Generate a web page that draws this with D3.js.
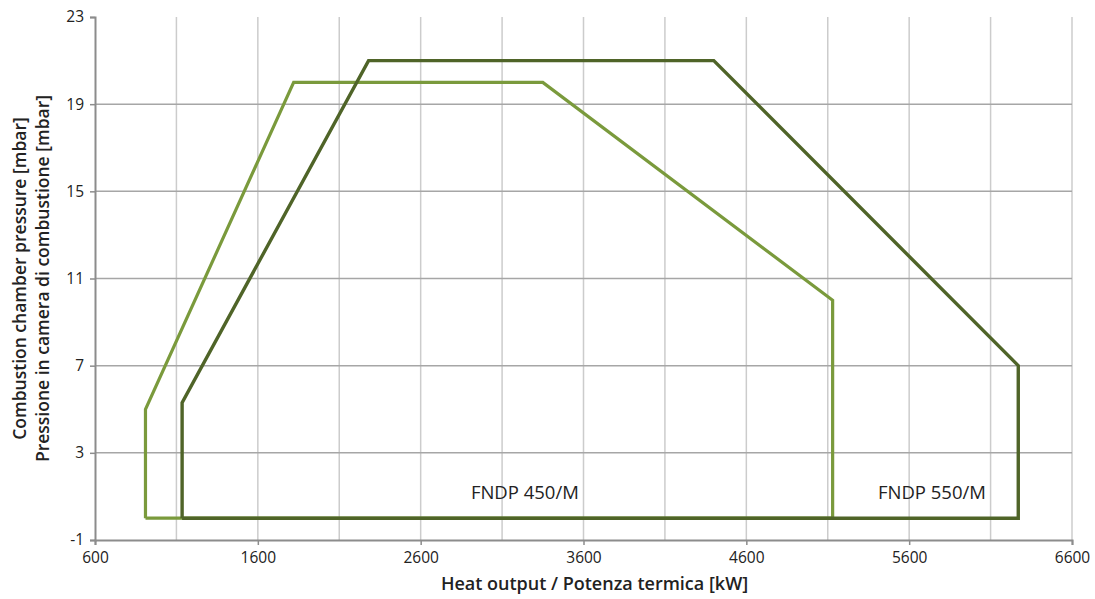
<!DOCTYPE html>
<html lang="en">
<head>
<meta charset="UTF-8">
<title>FNDP working range</title>
<style>
    body { margin: 0; background: #fff; font-family: "Open Sans", sans-serif; }
    svg text { fill: #222; }
</style>
<script src="https://d3js.org/d3.v7.min.js"></script>
</head>
<body>
<div id="chart"></div>
<script>
    // values (kW, mbar)
    const xTicks = [600, 1600, 2600, 3600, 4600, 5600, 6600];
    const yTicks = [-1, 3, 7, 11, 15, 19, 23];

    const fndp450 = [
        [910, 0], [910, 5], [1820, 20], [3350, 20], [5130, 10], [5130, 0], [910, 0]
    ];
    const fndp550 = [
        [1135, 0], [1135, 5.3], [2280, 21], [4400, 21], [6270, 7], [6270, 0], [1135, 0]
    ];
    const labels = [
        { text: "FNDP 450/M", x: 3240, y: 1.1 },
        { text: "FNDP 550/M", x: 5740, y: 1.1 }
    ];

    const width = 1095, height = 599;
    const margin = { top: 17, right: 23, bottom: 60, left: 95 };

    const svg = d3.select("#chart").append("svg")
        .attr("width", width)
        .attr("height", height);

    const x = d3.scaleLinear().domain([600, 6600]).range([margin.left, width - margin.right]);
    const y = d3.scaleLinear().domain([-1, 23]).range([height - margin.bottom + 1, margin.top]);

    // vertical grid every 500
    svg.append("g")
        .selectAll("line")
        .data(d3.range(1100, 6601, 500))
        .join("line")
        .attr("x1", d => x(d)).attr("x2", d => x(d))
        .attr("y1", y(23)).attr("y2", y(-1))
        .attr("stroke", "#cccccc")
        .attr("stroke-width", 1.5);

    // horizontal grid
    svg.append("g")
        .selectAll("line")
        .data(yTicks.filter(d => d > -1 && d < 23))
        .join("line")
        .attr("x1", x(600)).attr("x2", x(6600))
        .attr("y1", d => y(d)).attr("y2", d => y(d))
        .attr("stroke", "#a6a6a6")
        .attr("stroke-width", 1.5);

    // axes
    const xAxis = svg.append("g")
        .attr("transform", `translate(0,${y(-1)})`)
        .call(d3.axisBottom(x).tickValues(xTicks).tickSize(5).tickPadding(7).tickFormat(d => String(d)));
    const yAxis = svg.append("g")
        .attr("transform", `translate(${x(600)},0)`)
        .call(d3.axisLeft(y).tickValues(yTicks).tickSize(5).tickPadding(6).tickFormat(d => String(d)));

    [xAxis, yAxis].forEach(a => {
        a.select(".domain").attr("stroke", "#8c8c8c").attr("stroke-width", 2);
        a.selectAll(".tick line").attr("stroke", "#8c8c8c").attr("stroke-width", 1.5);
        a.selectAll(".tick text")
            .style("font-family", "'Open Sans', sans-serif")
            .style("font-size", "15.5px")
            .attr("fill", "#1a1a1a");
    });

    const line = d3.line().x(d => x(d[0])).y(d => y(d[1]));

    svg.append("path")
        .datum(fndp450)
        .attr("d", line)
        .attr("fill", "none")
        .attr("stroke", "#7a9a3c")
        .attr("stroke-width", 3.2)
        .attr("stroke-linejoin", "miter");

    svg.append("path")
        .datum(fndp550)
        .attr("d", line)
        .attr("fill", "none")
        .attr("stroke", "#4f6428")
        .attr("stroke-width", 3.4)
        .attr("stroke-linejoin", "miter");

    svg.append("g")
        .selectAll("text")
        .data(labels)
        .join("text")
        .attr("x", d => x(d.x))
        .attr("y", d => y(d.y))
        .attr("text-anchor", "middle")
        .attr("dominant-baseline", "middle")
        .style("font-size", "18.5px")
        .text(d => d.text);

    // axis titles
    svg.append("text")
        .attr("x", (x(600) + x(6600)) / 2 + 11)
        .attr("y", 590)
        .attr("text-anchor", "middle")
        .style("font-size", "18px")
        .style("font-weight", "600")
        .text("Heat output / Potenza termica [kW]");

    const yTitle = svg.append("text")
        .attr("transform", `translate(26,${(y(-1) + y(23)) / 2}) rotate(-90)`)
        .attr("text-anchor", "middle")
        .style("font-size", "17.5px")
        .style("font-weight", "600");
    yTitle.append("tspan").attr("x", 0).attr("dy", 0).text("Combustion chamber pressure [mbar]");
    yTitle.append("tspan").attr("x", 0).attr("dy", 23).text("Pressione in camera di combustione [mbar]");
</script>
</body>
</html>
